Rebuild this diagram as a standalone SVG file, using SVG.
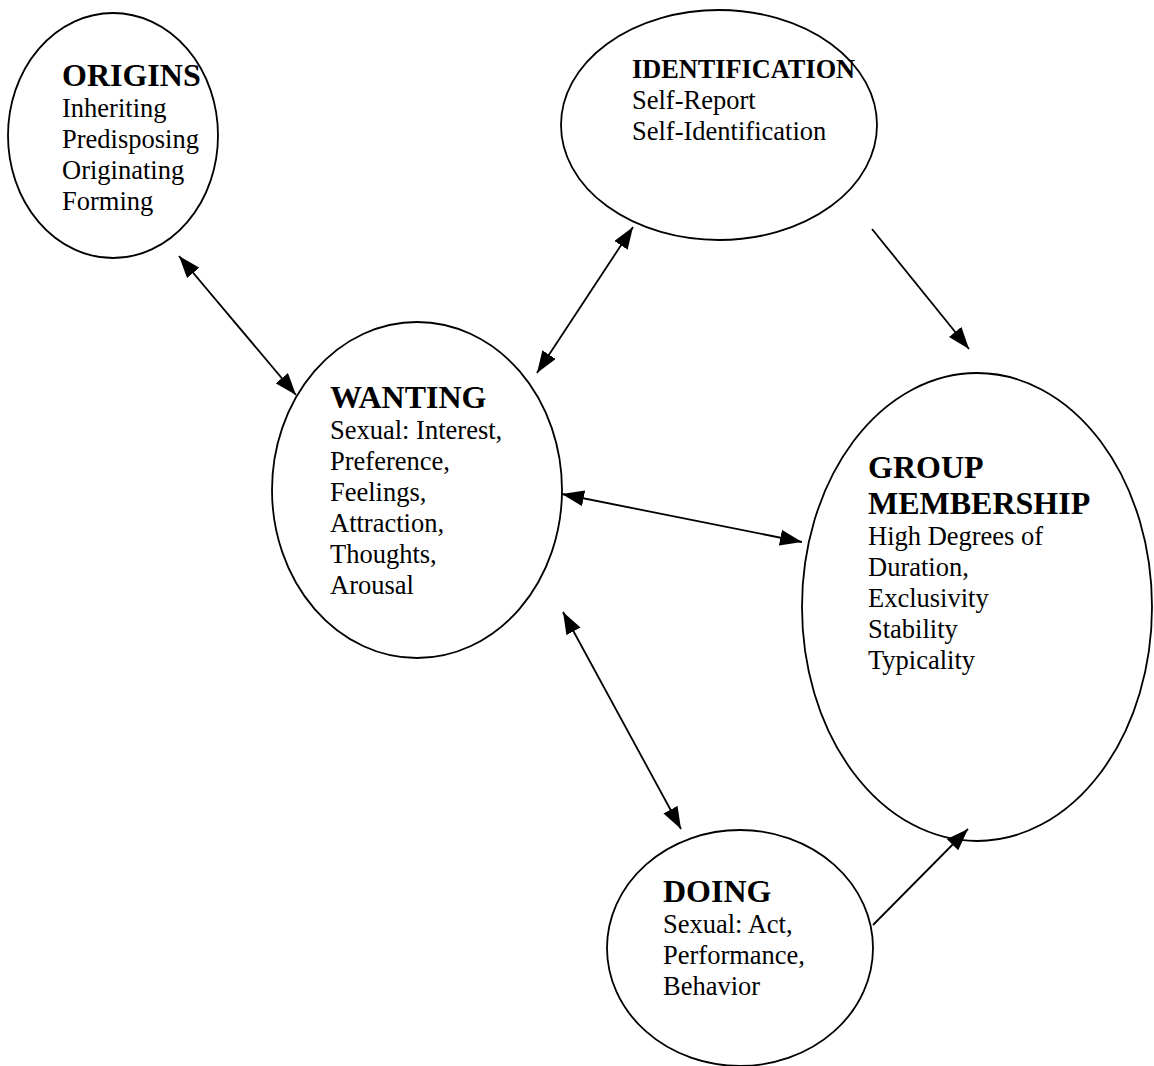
<svg xmlns="http://www.w3.org/2000/svg" width="1154" height="1066" viewBox="0 0 1154 1066">
<style>
.node{fill:#fff;stroke:#000;stroke-width:1.8}
.h{font-family:"Liberation Serif","Times New Roman",serif;font-weight:bold;font-size:32px;fill:#000}
.h2{font-family:"Liberation Serif","Times New Roman",serif;font-weight:bold;font-size:26.3px;fill:#000}
.t{font-family:"Liberation Serif","Times New Roman",serif;font-size:26.5px;fill:#000}
.c{stroke:#000;stroke-width:1.8;fill:none}
</style>
<defs>
<marker id="ah" viewBox="0 0 22 16" refX="22" refY="8" markerWidth="22" markerHeight="16" markerUnits="userSpaceOnUse" orient="auto-start-reverse">
<path d="M0,0 L22,8 L0,16 Z" fill="#000"/>
</marker>
</defs>
<rect width="1154" height="1066" fill="#fff"/>
<g id="origins">
<ellipse class="node" cx="113" cy="135.5" rx="105" ry="122.5"/>
<text class="h" x="62" y="86">ORIGINS</text>
<text class="t" x="62" y="117">Inheriting</text>
<text class="t" x="62" y="148">Predisposing</text>
<text class="t" x="62" y="179">Originating</text>
<text class="t" x="62" y="210">Forming</text>
</g>
<g id="identification">
<ellipse class="node" cx="719" cy="125" rx="158" ry="115"/>
<text class="h2" x="632" y="78">IDENTIFICATION</text>
<text class="t" x="632" y="109">Self-Report</text>
<text class="t" x="632" y="140">Self-Identification</text>
</g>
<g id="wanting">
<ellipse class="node" cx="417" cy="490" rx="145" ry="168"/>
<text class="h" x="330" y="408">WANTING</text>
<text class="t" x="330" y="439">Sexual: Interest,</text>
<text class="t" x="330" y="470">Preference,</text>
<text class="t" x="330" y="501">Feelings,</text>
<text class="t" x="330" y="532">Attraction,</text>
<text class="t" x="330" y="563">Thoughts,</text>
<text class="t" x="330" y="594">Arousal</text>
</g>
<g id="group-membership">
<ellipse class="node" cx="977" cy="607" rx="175" ry="234"/>
<text class="h" x="868" y="478">GROUP</text>
<text class="h" x="868" y="514">MEMBERSHIP</text>
<text class="t" x="868" y="545">High Degrees of</text>
<text class="t" x="868" y="576">Duration,</text>
<text class="t" x="868" y="607">Exclusivity</text>
<text class="t" x="868" y="638">Stability</text>
<text class="t" x="868" y="669">Typicality</text>
</g>
<g id="doing">
<ellipse class="node" cx="740" cy="948" rx="133" ry="118"/>
<text class="h" x="663" y="902">DOING</text>
<text class="t" x="663" y="933">Sexual: Act,</text>
<text class="t" x="663" y="964">Performance,</text>
<text class="t" x="663" y="995">Behavior</text>
</g>
<g id="connectors">
<line class="c" x1="179" y1="256" x2="296" y2="395" marker-start="url(#ah)" marker-end="url(#ah)"/>
<line class="c" x1="633" y1="227" x2="537" y2="373" marker-start="url(#ah)" marker-end="url(#ah)"/>
<line class="c" x1="872" y1="229" x2="969" y2="349" marker-end="url(#ah)"/>
<line class="c" x1="562" y1="494" x2="802" y2="542" marker-start="url(#ah)" marker-end="url(#ah)"/>
<line class="c" x1="563" y1="612" x2="681" y2="829" marker-start="url(#ah)" marker-end="url(#ah)"/>
<line class="c" x1="873" y1="925" x2="968" y2="829" marker-end="url(#ah)"/>
</g>
</svg>
